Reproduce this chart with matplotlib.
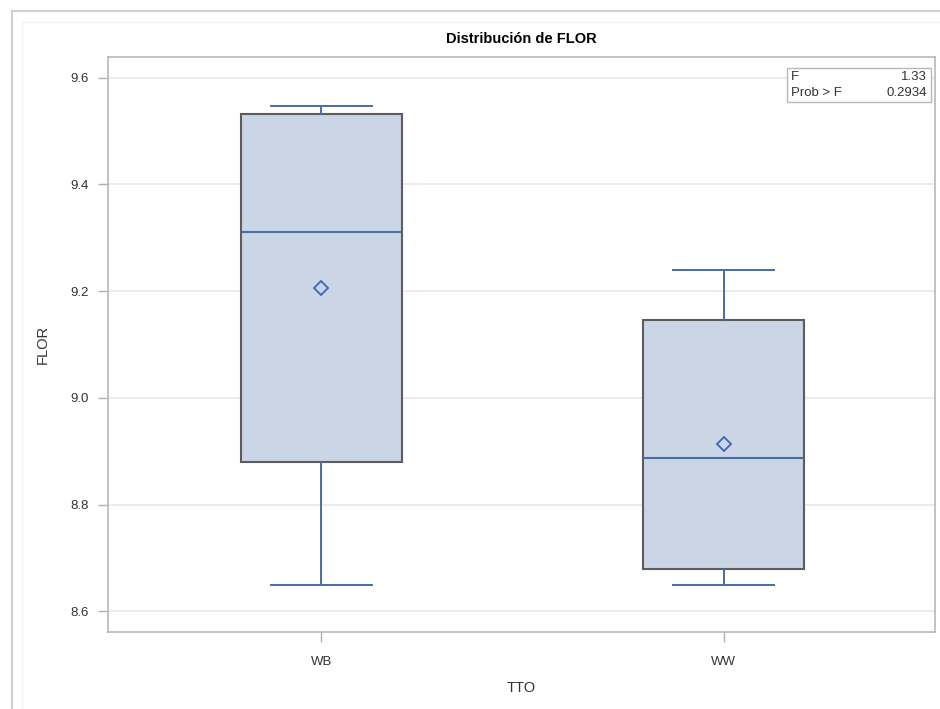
import matplotlib
matplotlib.use("Agg")
import matplotlib.pyplot as plt
from matplotlib.patches import Rectangle

plt.rcParams['font.family'] = ['Liberation Sans', 'DejaVu Sans']

# resumen por tratamiento
tto = ['WB', 'WW']
bigote_inf = [8.65, 8.65]
q1 = [8.88, 8.68]
mediana = [9.31, 8.887]
q3 = [9.532, 9.145]
bigote_sup = [9.548, 9.24]
media = [9.205, 8.913]

f_valor = 1.33
prob_f = 0.2934

stats = []
for i in range(len(tto)):
    stats.append({'label': tto[i], 'whislo': bigote_inf[i], 'q1': q1[i],
                  'med': mediana[i], 'q3': q3[i], 'whishi': bigote_sup[i],
                  'mean': media[i], 'fliers': []})

fig = plt.figure(figsize=(9.4, 7.09), dpi=100)
ax = fig.add_axes([108/940, 1-632/709, (935-108)/940, (632-57)/709])

azul = '#4a6ca6'
ax.bxp(stats, positions=[0, 1], widths=0.4, patch_artist=True, showmeans=True,
       boxprops=dict(facecolor='#cad5e6', edgecolor='#5c5c5c', linewidth=1.5),
       medianprops=dict(color=azul, linewidth=1.5),
       whiskerprops=dict(color=azul, linewidth=1.4),
       capprops=dict(color=azul, linewidth=1.4), capwidths=0.25,
       meanprops=dict(marker='D', markerfacecolor='none', markeredgecolor='#3f63b8',
                      markersize=7, markeredgewidth=1.3),
       zorder=3)

ax.set_xlim(-0.53, 1.525)
ax.set_ylim(8.561, 9.639)
ax.set_yticks([8.6, 8.8, 9.0, 9.2, 9.4, 9.6])
ax.set_yticklabels(['8.6', '8.8', '9.0', '9.2', '9.4', '9.6'])
ax.grid(axis='y', color='#e8e8e8', linewidth=1.2, zorder=0)
ax.set_axisbelow(True)
for s in ax.spines.values():
    s.set_color('#b8b8b8')
    s.set_linewidth(1.2)
ax.tick_params(colors='#b0b0b0', labelcolor='#333333', labelsize=9.5, length=7, width=1)
ax.tick_params(axis='y', pad=7)
ax.tick_params(axis='x', pad=10)

ax.set_title('Distribución de FLOR', fontsize=10.5, fontweight='bold', pad=10)
ax.set_xlabel('TTO', fontsize=10.5, color='#333333', labelpad=10)
ax.set_ylabel('FLOR', fontsize=10.5, color='#333333', labelpad=15)

# cuadro con el estadistico F
ax.add_patch(Rectangle((0.821, 0.921), 0.174, 0.06, transform=ax.transAxes,
                       facecolor='white', edgecolor='#b8b8b8', linewidth=1, zorder=5))
ax.text(0.826, 0.966, 'F', transform=ax.transAxes, fontsize=9.5, va='center', color='#333333', zorder=6)
ax.text(0.99, 0.966, f'{f_valor:.2f}', transform=ax.transAxes, fontsize=9.5, va='center', ha='right', color='#333333', zorder=6)
ax.text(0.826, 0.937, 'Prob > F', transform=ax.transAxes, fontsize=9.5, va='center', color='#333333', zorder=6)
ax.text(0.99, 0.937, f'{prob_f:.4f}', transform=ax.transAxes, fontsize=9.5, va='center', ha='right', color='#333333', zorder=6)

# marco exterior
fig.patches.append(Rectangle((12/940, -0.05), 1.0, 1-11/709+0.05, transform=fig.transFigure,
                             fill=False, edgecolor='#d0d0d0', linewidth=1.5))
fig.patches.append(Rectangle((22/940, -0.05), 1.0, 1-22/709+0.05, transform=fig.transFigure,
                             fill=False, edgecolor='#f2f2f2', linewidth=1))

fig.savefig('out.png', dpi=100)
